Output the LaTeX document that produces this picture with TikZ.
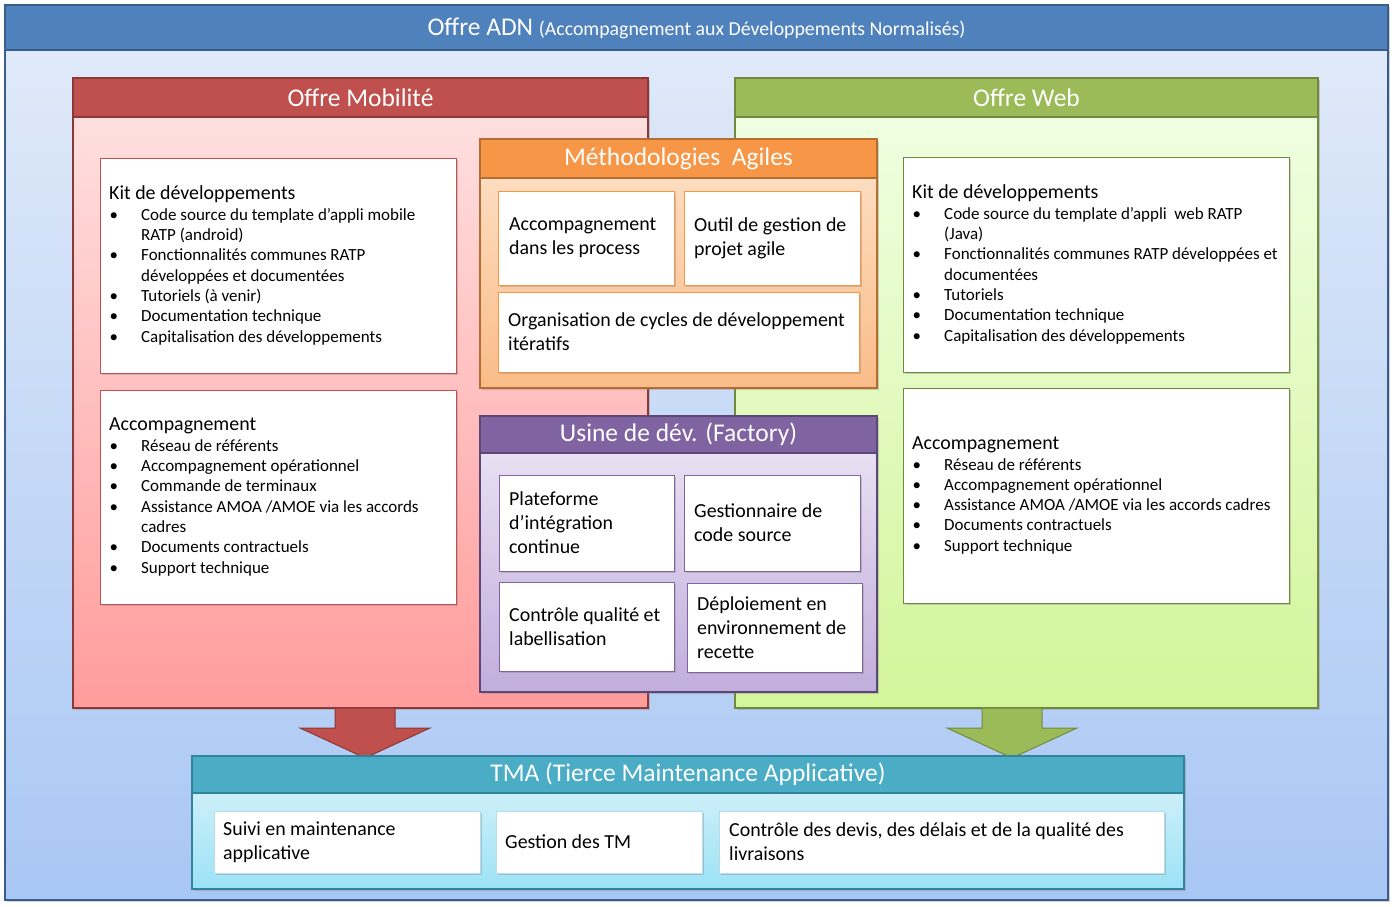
\documentclass[tikz,border=0pt]{standalone}
\usepackage{fontspec}
\setmainfont{Carlito}
\usetikzlibrary{shadows,calc}
\definecolor{adnH}{HTML}{4F81BD}
\definecolor{adnB}{HTML}{385D8A}
\definecolor{adnT}{HTML}{E2EBF9}
\definecolor{adnD}{HTML}{A9C7F4}
\definecolor{mobH}{HTML}{C0504D}
\definecolor{mobB}{HTML}{8C3836}
\definecolor{mobT}{HTML}{FFE3E3}
\definecolor{mobD}{HTML}{FF9C9C}
\definecolor{webH}{HTML}{9BBB59}
\definecolor{webB}{HTML}{71893F}
\definecolor{webT}{HTML}{F1FFE6}
\definecolor{webD}{HTML}{D3F59A}
\definecolor{agiH}{HTML}{F79646}
\definecolor{agiB}{HTML}{B66D31}
\definecolor{agiT}{HTML}{FDE2CA}
\definecolor{agiD}{HTML}{FABC88}
\definecolor{facH}{HTML}{8064A2}
\definecolor{facB}{HTML}{5C4776}
\definecolor{facT}{HTML}{EEE7F6}
\definecolor{facD}{HTML}{C1AEDC}
\definecolor{tmaH}{HTML}{4BACC6}
\definecolor{tmaB}{HTML}{31849B}
\definecolor{tmaT}{HTML}{DFF5FB}
\definecolor{tmaD}{HTML}{9CE2F6}
\definecolor{tmaL}{HTML}{B7DEE8}
\newcommand\bitem{\makebox[32pt][l]{\hspace*{0.5pt}\textbullet}}
\newcommand\bcont{\hspace*{32pt}}
\newcommand\hdf{\fontsize{19.9}{21}\selectfont}
\begin{document}
\begin{tikzpicture}[x=1pt,y=-1pt,
  frame/.style={anchor=north west, rectangle, inner sep=0pt, outer sep=0pt},
  shd/.style={drop shadow={opacity=0.35, shadow xshift=2pt, shadow yshift=-2pt}},
  hdr/.style={frame, text=white, font=\fontsize{25.5}{28}\selectfont, line width=1.5pt},
  bdy/.style={frame, line width=1.5pt, shd},
  inb/.style={frame, fill=white, line width=0.8pt, shd},
  lst/.style={anchor=west, align=left, inner sep=0pt, font=\fontsize{17}{20.3}\selectfont},
  txt/.style={anchor=west, align=left, inner sep=0pt, font=\fontsize{19.9}{24}\selectfont},
  bigarrow/.style={line width=1pt, line join=miter}
]
\useasboundingbox (0,0) rectangle (1395,907);
\fill[white] (0,0) rectangle (1395,907);

% ADN frame
\node[bdy, draw=adnB, line width=2pt, top color=adnT, bottom color=adnD, minimum width=1383pt, minimum height=895pt] (adn) at (5,5) {};
\node[hdr, fill=adnH, draw=adnB, line width=2pt, minimum width=1383pt, minimum height=45pt, text depth=2pt] (adnh) at (5,5) {Offre ADN {\fontsize{19.8}{22}\selectfont (Accompagnement aux Développements Normalisés)}};

% Offre Mobilite
\node[bdy, draw=mobB, top color=mobT, bottom color=mobD, minimum width=575pt, minimum height=630pt] (mob) at (73,78) {};
\node[hdr, fill=mobH, draw=mobB, minimum width=575pt, minimum height=39pt] (mobh) at (73,78) {Offre Mobilité};

% Offre Web
\node[bdy, draw=webB, top color=webT, bottom color=webD, minimum width=583pt, minimum height=630pt] (web) at (735,78) {};
\node[hdr, fill=webH, draw=webB, minimum width=583pt, minimum height=39pt] (webh) at (735,78) {Offre Web};

% Mobile boxes
\node[inb, draw=mobH, minimum width=356pt, minimum height=215pt] (mkit) at (100,158) {};
\node[lst] (mkitt) at ([xshift=9pt]mkit.west) {{\hdf Kit de développements}\\
\bitem Code source du template d’appli mobile\\
\bcont RATP (android)\\
\bitem Fonctionnalités communes RATP\\
\bcont développées et documentées\\
\bitem Tutoriels (à venir)\\
\bitem Documentation technique\\
\bitem Capitalisation des développements};

\node[inb, draw=mobH, minimum width=356pt, minimum height=214pt] (macc) at (100,390) {};
\node[lst] (macct) at ([xshift=9pt]macc.west) {{\hdf Accompagnement}\\
\bitem Réseau de référents\\
\bitem Accompagnement opérationnel\\
\bitem Commande de terminaux\\
\bitem Assistance AMOA /AMOE via les accords\\
\bcont cadres\\
\bitem Documents contractuels\\
\bitem Support technique};

% Web boxes
\node[inb, draw=webB, minimum width=386pt, minimum height=215pt] (wkit) at (903,157) {};
\node[lst] (wkitt) at ([xshift=9pt]wkit.west) {{\hdf Kit de développements}\\
\bitem Code source du template d’appli\ \ web RATP\\
\bcont (Java)\\
\bitem Fonctionnalités communes RATP développées et\\
\bcont documentées\\
\bitem Tutoriels\\
\bitem Documentation technique\\
\bitem Capitalisation des développements};

\node[inb, draw=webB, minimum width=386pt, minimum height=215pt] (wacc) at (903,388) {};
\node[lst] (wacct) at ([xshift=9pt]wacc.west) {{\hdf Accompagnement}\\
\bitem Réseau de référents\\
\bitem Accompagnement opérationnel\\
\bitem Assistance AMOA /AMOE via les accords cadres\\
\bitem Documents contractuels\\
\bitem Support technique};

% Methodologies Agiles
\node[bdy, draw=agiB, top color=agiT, bottom color=agiD, minimum width=397pt, minimum height=249pt] (agi) at (480,139) {};
\node[hdr, fill=agiH, draw=agiB, minimum width=397pt, minimum height=39pt] (agih) at (480,139) {Méthodologies\hspace{0.45em}Agiles};
\node[inb, draw=agiH, minimum width=176pt, minimum height=94pt] (a1) at (498,191) {};
\node[txt] (a1t) at ([xshift=11pt]a1.west) {Accompagnement\\dans les process};
\node[inb, draw=agiH, minimum width=176pt, minimum height=94pt] (a2) at (684,191) {};
\node[txt] (a2t) at ([xshift=10pt]a2.west) {Outil de gestion de\\projet agile};
\node[inb, draw=agiH, minimum width=361pt, minimum height=80pt] (a3) at (498,292) {};
\node[txt] (a3t) at ([xshift=10pt]a3.west) {Organisation de cycles de développement\\itératifs};

% Usine de dev
\node[bdy, draw=facB, top color=facT, bottom color=facD, minimum width=397pt, minimum height=276pt] (fac) at (480,416) {};
\node[hdr, fill=facH, draw=facB, minimum width=397pt, minimum height=37pt] (fach) at (480,416) {Usine de dév. (Factory)};
\node[inb, draw=facH, minimum width=175pt, minimum height=96pt] (f1) at (499,475) {};
\node[txt] (f1t) at ([xshift=10pt]f1.west) {Plateforme\\d’intégration\\continue};
\node[inb, draw=facH, minimum width=176pt, minimum height=96pt] (f2) at (684,475) {};
\node[txt] (f2t) at ([xshift=10pt]f2.west) {Gestionnaire de\\code source};
\node[inb, draw=facH, minimum width=175pt, minimum height=89pt] (f3) at (499,582) {};
\node[txt] (f3t) at ([xshift=10pt]f3.west) {Contrôle qualité et\\labellisation};
\node[inb, draw=facH, minimum width=175pt, minimum height=89pt] (f4) at (687,583) {};
\node[txt] (f4t) at ([xshift=10pt]f4.west) {Déploiement en\\environnement de\\recette};

% Arrows
\coordinate (rtop) at (365,708);
\coordinate (gtop) at (1012,708);
\draw[bigarrow, draw=mobB, fill=mobH] ($(rtop)+(-30,0)$) -- ++(0,20) -- ++(-35,0) -- ++(65,30) -- ++(65,-30) -- ++(-35,0) -- ++(0,-20) -- cycle;
\draw[bigarrow, draw=webB, fill=webH] ($(gtop)+(-30,0)$) -- ++(0,20) -- ++(-35,0) -- ++(65,30) -- ++(65,-30) -- ++(-35,0) -- ++(0,-20) -- cycle;

% TMA
\node[bdy, draw=tmaB, top color=tmaT, bottom color=tmaD, minimum width=992pt, minimum height=133pt] (tma) at (192,756) {};
\node[hdr, fill=tmaH, draw=tmaB, minimum width=992pt, minimum height=37pt] (tmah) at (192,756) {TMA (Tierce Maintenance Applicative)};
\node[inb, draw=tmaL, minimum width=266pt, minimum height=62pt] (t1) at (214,811) {};
\node[txt] (t1t) at ([xshift=9pt]t1.west) {Suivi en maintenance\\applicative};
\node[inb, draw=tmaL, minimum width=206pt, minimum height=62pt] (t2) at (496,811) {};
\node[txt] (t2t) at ([xshift=9pt]t2.west) {Gestion des TM};
\node[inb, draw=tmaL, minimum width=445pt, minimum height=62pt] (t3) at (719,811) {};
\node[txt] (t3t) at ([xshift=10pt]t3.west) {Contrôle des devis, des délais et de la qualité des\\livraisons};
\end{tikzpicture}
\end{document}
